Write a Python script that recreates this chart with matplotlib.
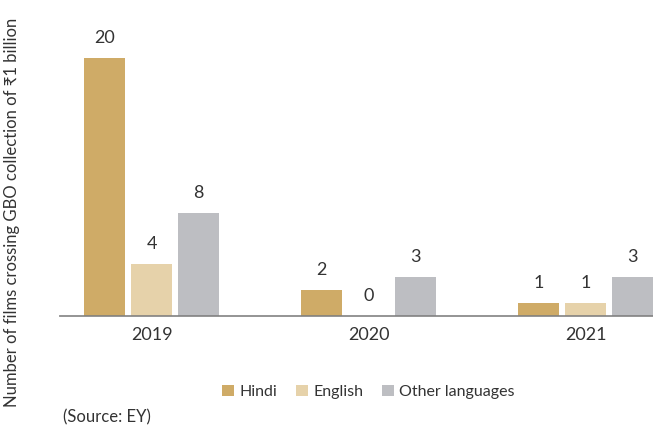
import matplotlib
matplotlib.use('Agg')
import matplotlib.pyplot as plt
from matplotlib.patches import Patch
import numpy as np

plt.rcParams['font.family'] = ['Lato', 'Noto Sans', 'DejaVu Sans']

# --- data ---
years = ['2019', '2020', '2021']
series_names = ['Hindi', 'English', 'Other languages']
hindi = [20, 2, 1]
english = [4, 0, 1]
other = [8, 3, 3]
colors = ['#CFAB67', '#E6D2AA', '#BDBEC2']
text_color = '#333333'

fig = plt.figure(figsize=(6.53, 4.32), dpi=100)
ax = fig.add_axes([0.0919, 0.2685, 0.9081, 0.7315])

x = np.arange(len(years))
step = 0.2166
width = 0.189
for i, (vals, col) in enumerate(zip([hindi, english, other], colors)):
    pos = x + (i - 1) * step
    ax.bar(pos, vals, width=width, color=col, zorder=2)
    for px, v in zip(pos, vals):
        ax.text(px, v + 1.55, str(v), ha='center', va='center',
                fontsize=13, color=text_color)

ax.set_xlim(-0.4217, 2.311)
ax.set_ylim(0, 24.5)

# baseline drawn over the bars
ax.axhline(0, color='#7f7f7f', lw=1.3, alpha=0.9, zorder=3, clip_on=False)

for s in ax.spines.values():
    s.set_visible(False)
ax.set_yticks([])
ax.set_xticks(x)
ax.set_xticklabels(years, fontsize=13, color=text_color)
ax.tick_params(axis='x', length=0, pad=8)

fig.text(0.018, 0.509, 'Number of films crossing GBO collection of \u20b91 billion',
         rotation=90, ha='center', va='center', fontsize=12, color=text_color)

handles = [Patch(facecolor=c, edgecolor='none') for c in colors]
fig.legend(handles, series_names, loc='center', bbox_to_anchor=(0.564, 0.0926),
           ncol=3, frameon=False, fontsize=11.5, handlelength=0.75, handleheight=0.75,
           handletextpad=0.35, columnspacing=1.15, labelcolor=text_color)

fig.text(0.0965, 1 - 417 / 432, '(Source: EY)', ha='left', va='center',
         fontsize=12, color=text_color)

fig.savefig('out.png', dpi=100)
